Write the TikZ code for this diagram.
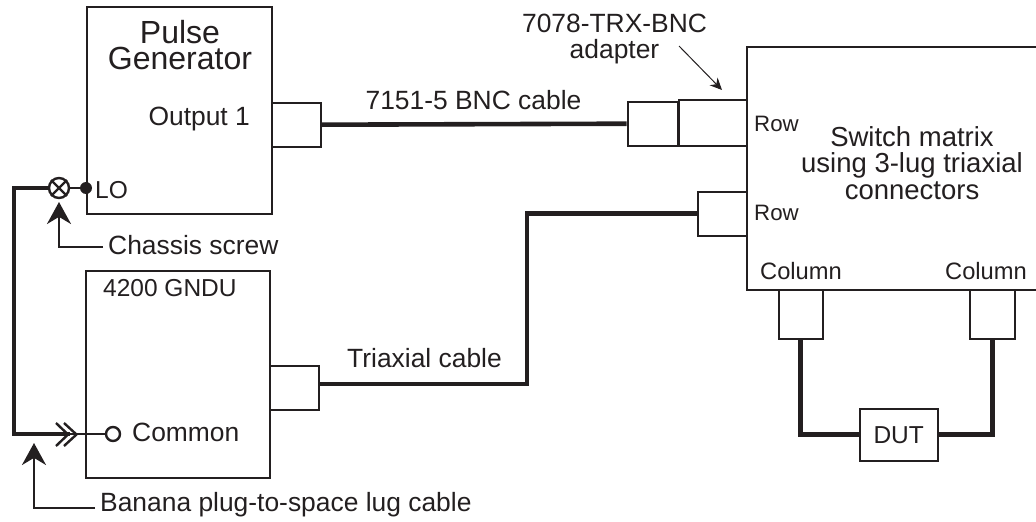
\documentclass[tikz,border=0pt]{standalone}
\usepackage{fontspec}
\setmainfont{Liberation Sans}
\usetikzlibrary{arrows.meta}
\definecolor{ink}{HTML}{231F20}
\tikzset{
  every path/.style={color=ink},
  boxthin/.style={draw=ink,line width=2.4pt,fill=white,inner sep=0pt,anchor=north west},
  cable/.style={draw=ink,line width=4.6pt,line cap=butt,line join=miter},
  wire/.style={draw=ink,line width=2.4pt},
  leader/.style={draw=ink,line width=2.2pt,-{Stealth[length=22pt,width=24pt]}},
  lbl/.style={text=ink,font=\fontsize{26.4}{26.5}\selectfont,inner sep=0pt,align=center},
  caps/.style={text=ink,font=\fontsize{24.5}{27}\selectfont,inner sep=0pt,align=center},
  wide/.style={text=ink,font=\fontsize{27.5}{26.5}\selectfont,inner sep=0pt,align=center},
  small/.style={text=ink,font=\fontsize{23.7}{25}\selectfont,inner sep=0pt},
  rowlbl/.style={text=ink,font=\fontsize{22.3}{25}\selectfont,inner sep=0pt},
  big/.style={text=ink,font=\fontsize{32}{26}\selectfont,inner sep=0pt,align=center}
}
\begin{document}
\begin{tikzpicture}[x=1pt,y=-1pt]
\useasboundingbox (0,0) rectangle (1036,522);
\node[boxthin,minimum width=185pt,minimum height=207pt] (pg) at (85.5,5.5) {};
\node[boxthin,minimum width=184pt,minimum height=207pt] (gndu) at (84.5,269.5) {};
\node[boxthin,minimum width=294pt,minimum height=243pt] (sm) at (745.5,45.5) {};
\node[boxthin,minimum width=49pt,minimum height=44pt] (c1) at (270.5,101.5) {};
\node[boxthin,minimum width=49pt,minimum height=44pt] (c2) at (268.5,364.5) {};
\node[boxthin,minimum width=50pt,minimum height=44pt] (c3) at (626.5,100.5) {};
\node[boxthin,minimum width=68pt,minimum height=46pt] (ad) at (677.5,98.5) {};
\node[boxthin,minimum width=49pt,minimum height=44pt] (c4) at (696.5,190.5) {};
\node[boxthin,minimum width=44pt,minimum height=49pt] (c5) at (777.5,288.5) {};
\node[boxthin,minimum width=45pt,minimum height=49pt] (c6) at (968.5,288.5) {};
\node[boxthin,minimum width=78pt,minimum height=52pt] (dut) at (858.5,407.5) {};
% cables
\coordinate (k) at (527,384);
\draw[cable] (c1.east) -- (c3.west);
\draw[cable] (c4.west) -| (k) -- (c2.east |- k);
\draw[cable] (c5.south) |- (dut.west);
\draw[cable] (c6.south) |- (dut.east);
% ground
\coordinate (gl) at (14,188);
\coordinate (gb) at (14,434);
\coordinate (chev) at (70,434);
\node[draw=ink,line width=2.4pt,circle,minimum size=20pt,inner sep=0pt,fill=white] (screw) at (59,188) {};
\draw[line width=2.2pt] (screw.north west) -- (screw.south east) (screw.north east) -- (screw.south west);
\node[circle,fill=ink,minimum size=12pt,inner sep=0pt] (lo) at (86,188) {};
\node[draw=ink,line width=2.4pt,circle,minimum size=14pt,inner sep=0pt,fill=white] (com) at (113,434) {};
\draw[wire] (screw.east) -- (lo.center);
\draw[cable] (screw.west) -- (gl.center) -- (gb.center) -- (chev);
\draw[wire] (chev) -- (com.west);
\draw[line width=2.4pt] (56,423) -- (68,434.5) -- (56,446) (64,423) -- (76.5,434.5) -- (64,446);
% labels
\node[big] (t1) at (180,45) {Pulse\\Generator};
\node[lbl,anchor=east] (t2) at (250,119) {Output 1};
\node[caps,anchor=west] (t3) at (95,190) {LO};
\node[lbl,anchor=west] (t4) at (108,245) {Chassis screw};
\node[caps,anchor=west] (t5) at (103,288) {4200 GNDU};
\node[lbl,anchor=west] (t6) at (132,432) {Common};
\node[lbl,anchor=west] (t7) at (100,505) {Banana plug-to-space lug cable};
\node[lbl] (t8) at (473.5,100) {7151-5 BNC cable};
\node[lbl] (t9) at (424.5,358) {Triaxial cable};
\node[lbl] (t10) at (614.5,39) {7078-TRX-BNC\\adapter};
\node[wide] (t11) at (912,163) {Switch matrix\\using 3-lug triaxial\\connectors};
\node[rowlbl,anchor=west] (r1) at (754,124) {Row};
\node[rowlbl,anchor=west] (r2) at (754,213) {Row};
\node[small] (k1) at (801,271) {Column};
\node[small] (k2) at (986,271) {Column};
\node[caps] (d) at (dut) {DUT};
% leaders
\coordinate (a1) at (103,247);
\coordinate (a2) at (95,508);
\coordinate (a3) at (679,46);
\coordinate (a4) at (722,90);
\draw[leader] (a1) -| (59,202);
\draw[leader] (a2) -| (34,443);
\draw[draw=ink,line width=1pt,-{Stealth[length=12pt,width=11pt]}] (a3) -- (a4);
\end{tikzpicture}
\end{document}
